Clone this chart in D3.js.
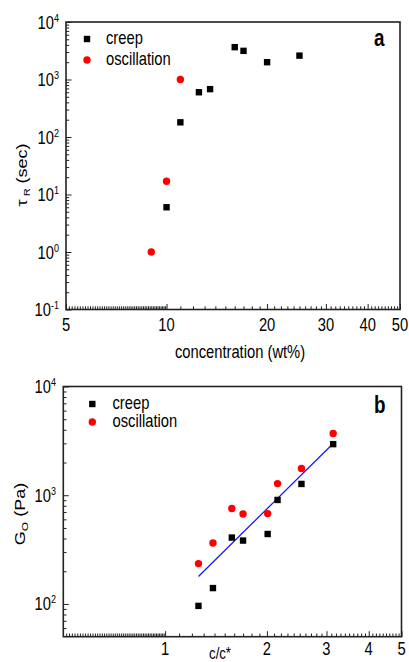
<!DOCTYPE html>
<html><head><meta charset="utf-8">
<script src="https://cdn.jsdelivr.net/npm/d3@7"></script>
<style>
body{margin:0;background:#fff}
svg{display:block}
text{font-family:"Liberation Sans",Arial,sans-serif;fill:#000}
</style>
</head><body>
<script>
// ---------- Panel a data ----------
const aCreepConc = [10, 11, 12.5, 13.5, 16, 17, 20, 25];
const aCreepTau  = [6, 180, 600, 680, 3650, 3150, 2000, 2600];
const aOscConc   = [9, 10, 11];
const aOscTau    = [1, 17, 1000];
const aXTicks    = [5, 10, 20, 30, 40, 50];
const aYTicks    = [0.1, 1, 10, 100, 1000, 10000];
const aYExp      = ["-1", "0", "1", "2", "3", "4"];

// ---------- Panel b data ----------
const bRatio     = [1.255, 1.385, 1.575, 1.70, 2.01, 2.15, 2.53, 3.14];
const bCreepG    = [96, 140, 408, 383, 440, 905, 1270, 2950];
const bOscG      = [235, 364, 755, 673, 678, 1280, 1760, 3700];
const bFitX      = [1.255, 3.14];
const bFitY      = [179, 2990];
const bXTicks    = [1, 2, 3, 4, 5];
const bYTicks    = [100, 1000, 10000];
const bYExp      = ["2", "3", "4"];

const W = 409, H = 662, SX = 0.82;
const svg = d3.select("body").append("svg").attr("width", W).attr("height", H);

function minorLog(lo, hi) {
  const out = [];
  for (let e = Math.floor(Math.log10(lo)) - 1; e <= Math.ceil(Math.log10(hi)); e++) {
    const p = Math.pow(10, e);
    for (let k = 1; k < 10; k++) {
      const v = +(k * p).toPrecision(6);
      if (v > lo * 1.0001 && v < hi * 0.9999) out.push(v);
    }
  }
  return out;
}
function minorLinearSteps(lo, hi, majors) {
  const out = [];
  for (let e = Math.floor(Math.log10(lo)) - 1; e <= Math.ceil(Math.log10(hi)); e++) {
    const p = Math.pow(10, e);
    for (let k = 10; k < 100; k++) {
      const v = +(k * p / 10).toPrecision(6);
      if (v > lo * 1.0001 && v < hi * 0.9999 && !majors.some(m => Math.abs(m - v) < 1e-9)) out.push(v);
    }
  }
  return Array.from(new Set(out)).sort((a, b) => a - b);
}

function ctext(g, x, y, str, size, anchor, weight) {
  return g.append("text")
    .attr("transform", `translate(${x},${y}) scale(${SX},1)`)
    .attr("text-anchor", anchor || "start")
    .attr("font-size", size)
    .attr("font-weight", weight || "normal")
    .text(str);
}

function panel(cfg) {
  const g = svg.append("g");
  const x = d3.scaleLog().domain(cfg.xDom).range([cfg.left, cfg.right]);
  const y = d3.scaleLog().domain(cfg.yDom).range([cfg.bottom, cfg.top]);

  const xMinor = cfg.xMinor;
  const yMinor = minorLog(cfg.yDom[0], cfg.yDom[1]).filter(v => !cfg.yTicks.includes(v));

  const axX = g.append("g").attr("transform", `translate(0,${cfg.bottom})`);
  axX.append("g").call(d3.axisBottom(x).tickValues(cfg.xTicks).tickSize(-5.5).tickFormat(""));
  axX.append("g").call(d3.axisBottom(x).tickValues(xMinor).tickSize(-3.2).tickFormat(""));
  const axY = g.append("g").attr("transform", `translate(${cfg.left},0)`);
  axY.append("g").call(d3.axisLeft(y).tickValues(cfg.yTicks).tickSize(-5.5).tickFormat(""));
  axY.append("g").call(d3.axisLeft(y).tickValues(yMinor).tickSize(-3.2).tickFormat(""));
  g.selectAll(".domain").remove();
  g.selectAll(".tick line").attr("stroke", "#222").attr("stroke-width", 1);

  g.append("rect").attr("x", cfg.left).attr("y", cfg.top)
    .attr("width", cfg.right - cfg.left).attr("height", cfg.bottom - cfg.top)
    .attr("fill", "none").attr("stroke", "#222").attr("stroke-width", 1.6);

  cfg.xTicks.forEach(v => ctext(g, x(v), cfg.xLabY, String(v), 18, "middle"));
  cfg.yTicks.forEach((v, i) => {
    const t = g.append("text")
      .attr("transform", `translate(${cfg.yLabX},${y(v) + 6.5}) scale(${SX},1)`)
      .attr("text-anchor", "end").attr("font-size", 18);
    t.append("tspan").text("10");
    t.append("tspan").attr("font-size", 11).attr("dy", -7).text(cfg.yExp[i]);
  });

  if (cfg.fitX) {
    g.append("path")
      .datum(cfg.fitX.map((d, i) => [d, cfg.fitY[i]]))
      .attr("fill", "none").attr("stroke", "#1010ff").attr("stroke-width", 1.2)
      .attr("d", d3.line().x(d => x(d[0])).y(d => y(d[1])));
  }

  g.selectAll(null).data(cfg.oscX.map((d, i) => [d, cfg.oscY[i]])).enter()
    .append("circle").attr("cx", d => x(d[0])).attr("cy", d => y(d[1]))
    .attr("r", 3.7).attr("fill", "#ff0000");
  const s = 6.4;
  g.selectAll(null).data(cfg.creepX.map((d, i) => [d, cfg.creepY[i]])).enter()
    .append("rect").attr("x", d => x(d[0]) - s / 2).attr("y", d => y(d[1]) - s / 2)
    .attr("width", s).attr("height", s).attr("fill", "#000");

  const L = cfg.legend;
  g.append("rect").attr("x", L.x - s / 2).attr("y", L.y1 - s / 2).attr("width", s).attr("height", s).attr("fill", "#000");
  g.append("circle").attr("cx", L.x).attr("cy", L.y2).attr("r", 3.7).attr("fill", "#ff0000");
  ctext(g, L.tx, L.y1 + 4.5, "creep", 18);
  ctext(g, L.tx, L.y2 + 4.5, "oscillation", 18);

  ctext(g, cfg.letterX, cfg.letterY, cfg.letter, 23, "start", "bold");
  return { g, x, y };
}

// ---------- Panel a ----------
panel({
  left: 66, right: 400, top: 22, bottom: 309.5,
  xDom: [5, 50], yDom: [0.1, 10000],
  xTicks: aXTicks, xMinor: minorLinearSteps(5, 50, aXTicks),
  yTicks: aYTicks, yExp: aYExp,
  xLabY: 330.5, yLabX: 59,
  creepX: aCreepConc, creepY: aCreepTau, oscX: aOscConc, oscY: aOscTau,
  legend: { x: 87, y1: 39, y2: 60, tx: 106 },
  letter: "a", letterX: 374, letterY: 46
});
ctext(svg, 240, 358, "concentration (wt%)", 18, "middle");
{
  const t = svg.append("text")
    .attr("transform", `translate(27,175) scale(${SX},1) rotate(-90)`)
    .attr("text-anchor", "middle").attr("font-size", 18);
  t.append("tspan").text("τ");
  t.append("tspan").attr("font-size", 11).attr("dy", 4).text(" R");
  t.append("tspan").attr("dy", -4).text(" (sec)");
}

// ---------- Panel b ----------
panel({
  left: 63.3, right: 401.5, top: 386.5, bottom: 636.7,
  xDom: [0.5, 5], yDom: [50, 10000],
  xTicks: bXTicks, xMinor: minorLinearSteps(0.5, 5, bXTicks),
  yTicks: bYTicks, yExp: bYExp,
  xLabY: 655, yLabX: 56,
  creepX: bRatio, creepY: bCreepG, oscX: bRatio, oscY: bOscG,
  fitX: bFitX, fitY: bFitY,
  legend: { x: 92.3, y1: 404, y2: 422, tx: 112.5 },
  letter: "b", letterX: 374, letterY: 413
});
ctext(svg, 220, 659, "c/c*", 16, "middle");
{
  const t = svg.append("text")
    .attr("transform", `translate(25,514) scale(${SX},1) rotate(-90)`)
    .attr("text-anchor", "middle").attr("font-size", 18);
  t.append("tspan").text("G");
  t.append("tspan").attr("font-size", 12).attr("dy", 4).text("O");
  t.append("tspan").attr("dy", -4).text(" (Pa)");
}
</script>
</body></html>
